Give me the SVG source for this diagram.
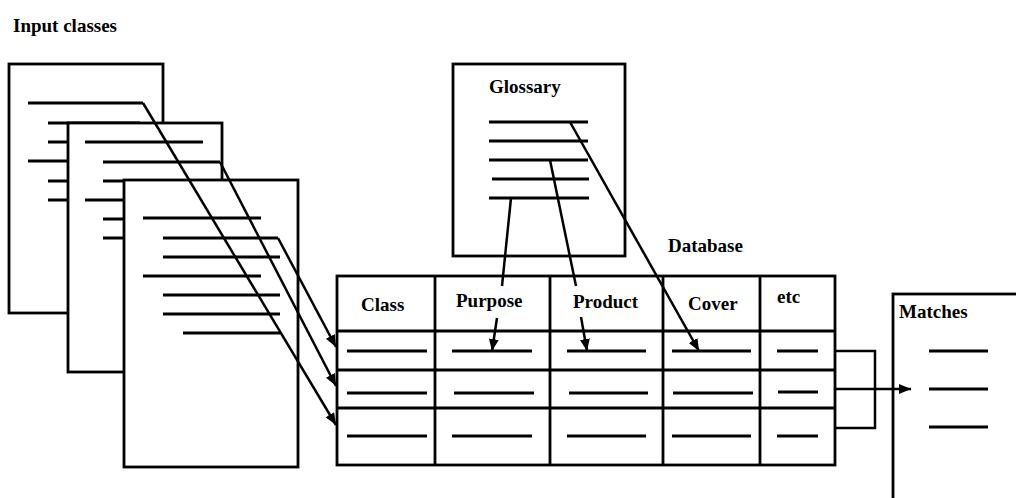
<svg xmlns="http://www.w3.org/2000/svg" width="1016" height="498" viewBox="0 0 1016 498">
<style>
  .box { fill: #fff; stroke: #000; stroke-width: 2.8; }
  .ln { stroke: #000; stroke-width: 2.8; fill: none; stroke-linecap: butt; }
  .con { stroke: #000; stroke-width: 2.5; fill: none; }
  .txt { font-family: "Liberation Serif", "Times New Roman", serif; font-size: 19px; font-weight: bold; fill: #000; }
</style>
<defs>
  <marker id="ah" markerUnits="userSpaceOnUse" markerWidth="14" markerHeight="12" refX="12" refY="5" orient="auto">
    <path d="M0,0 L12,5 L0,10 z" fill="#000"/>
  </marker>
</defs>
<rect width="1016" height="498" fill="#fff"/>

<g id="label-input">
  <text class="txt" x="13" y="32">Input classes</text>
</g>

<g id="doc1">
  <rect class="box" x="9" y="64" width="154" height="249"/>
  <path class="ln" d="M28,103 H143 M48,123 H140 M48,142 H140 M28,161 H143 M48,181 H140 M48,200 H140"/>
</g>
<g id="doc2">
  <rect class="box" x="68" y="123" width="154" height="249"/>
  <path class="ln" d="M85,142 H203 M103,162 H220 M103,181 H203 M85,200 H203 M103,219 H220 M103,238 H220"/>
</g>
<g id="doc3">
  <rect class="box" x="124" y="180" width="174" height="287"/>
  <path class="ln" d="M143,218 H261 M163,238 H278 M163,257 H280 M143,276 H261 M163,295 H280 M163,314 H280 M183,333 H280"/>
</g>

<g id="glossary">
  <rect class="box" x="453" y="64" width="172" height="192"/>
  <text class="txt" x="489" y="93">Glossary</text>
  <path class="ln" d="M489,122 H588 M489,141 H588 M489,160 H588 M492,179 H589 M489,198 H589"/>
</g>

<g id="database-label">
  <text class="txt" x="668" y="252">Database</text>
</g>

<g id="database">
  <rect class="box" x="337" y="276" width="498" height="189"/>
  <path class="ln" d="M435,276 V465 M550,276 V465 M663,276 V465 M760,276 V465 M337,331 H835 M337,370 H835 M337,408 H835"/>
  <text class="txt" x="361" y="311">Class</text>
  <text class="txt" x="456" y="307">Purpose</text>
  <text class="txt" x="573" y="308">Product</text>
  <text class="txt" x="688" y="310">Cover</text>
  <text class="txt" x="777" y="303">etc</text>
  <path class="ln" d="M347,351 H427 M452,351 H532 M567,351 H646 M672,351 H751 M777,351 H818
                     M347,393 H427 M454,393 H534 M569,393 H648 M673,393 H753 M778,392 H818
                     M347,436 H427 M452,436 H532 M567,436 H646 M672,436 H751 M777,436 H818"/>
</g>

<g id="matches">
  <rect class="box" x="893" y="294" width="140" height="220"/>
  <text class="txt" x="899" y="318">Matches</text>
  <path class="ln" d="M929,351 H988 M929,389 H988 M929,427 H988"/>
</g>

<g id="connectors">
  <path class="con" d="M143,103 L336,425" marker-end="url(#ah)"/>
  <path class="con" d="M220,162 L336,386" marker-end="url(#ah)"/>
  <path class="con" d="M278,238 L336,347" marker-end="url(#ah)"/>
  <path class="con" d="M511,198 L502,286"/>
  <path class="con" d="M497,318 L492,351" marker-end="url(#ah)"/>
  <path class="con" d="M550,160 L576,286"/>
  <path class="con" d="M581,317 L587,351" marker-end="url(#ah)"/>
  <path class="con" d="M570,122 L699,351" marker-end="url(#ah)"/>
  <path class="con" d="M835,351 H875 V428 H835"/>
  <path class="con" d="M835,389 H911" marker-end="url(#ah)"/>
</g>
</svg>
